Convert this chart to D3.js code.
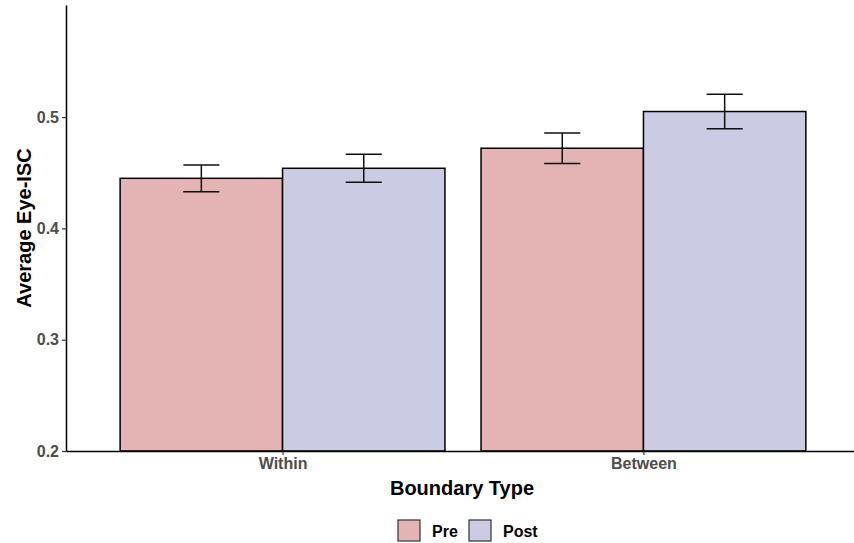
<!DOCTYPE html>
<html>
<head>
<meta charset="utf-8">
<script src="https://cdn.jsdelivr.net/npm/d3@7"></script>
<style>
  html, body { margin: 0; padding: 0; background: #fff; }
  svg { display: block; font-family: "Liberation Sans", Arial, sans-serif; }
</style>
</head>
<body>
<svg id="chart" width="854" height="543"></svg>
<script>
const categories = ["Within", "Between"];
const groups = ["Pre", "Post"];
const preMeans = [0.445, 0.472];
const postMeans = [0.454, 0.505];
const preErr = [0.012, 0.0137];
const postErr = [0.0125, 0.0155];
const yTicks = [0.2, 0.3, 0.4, 0.5];
const colors = ["#E4B3B3", "#CBCBE4"];

const data = [];
categories.forEach((c, i) => {
  data.push({cat: c, group: "Pre", mean: preMeans[i], err: preErr[i]});
  data.push({cat: c, group: "Post", mean: postMeans[i], err: postErr[i]});
});

const svg = d3.select("#chart");
const mLeft = 66, mRight = 860, mTop = 5, mBottom = 451;

const y = d3.scaleLinear().domain([0.2, 0.6007]).range([mBottom, mTop]);
const x = d3.scalePoint().domain(categories).range([mLeft, mRight]).padding(0.6);
const step = x.step();
const dodgeW = 0.9 * step;
const xg = d3.scaleBand().domain(groups).range([-dodgeW / 2, dodgeW / 2]).padding(0);
const color = d3.scaleOrdinal().domain(groups).range(colors);

const g = svg.append("g");

// bars
g.selectAll("rect.bar").data(data).enter().append("rect")
  .attr("class", "bar")
  .attr("x", d => x(d.cat) + xg(d.group))
  .attr("y", d => y(d.mean))
  .attr("width", xg.bandwidth())
  .attr("height", d => y(0.2) - y(d.mean))
  .attr("fill", d => color(d.group))
  .attr("stroke", "#000")
  .attr("stroke-width", 1.5);

// error bars
const capW = 0.1 * step;
const cx = d => x(d.cat) + xg(d.group) + xg.bandwidth() / 2;
const eb = g.selectAll("g.eb").data(data).enter().append("g").attr("class", "eb")
  .attr("stroke", "#111").attr("stroke-width", 1.5);
eb.append("line")
  .attr("x1", cx).attr("x2", cx)
  .attr("y1", d => y(d.mean + d.err))
  .attr("y2", d => y(d.mean - d.err));
eb.append("line")
  .attr("x1", d => cx(d) - capW / 2)
  .attr("x2", d => cx(d) + capW / 2)
  .attr("y1", d => y(d.mean + d.err))
  .attr("y2", d => y(d.mean + d.err));
eb.append("line")
  .attr("x1", d => cx(d) - capW / 2)
  .attr("x2", d => cx(d) + capW / 2)
  .attr("y1", d => y(d.mean - d.err))
  .attr("y2", d => y(d.mean - d.err));

// y axis
const yAxis = svg.append("g").attr("transform", `translate(${mLeft},0)`)
  .call(d3.axisLeft(y).tickValues(yTicks).tickFormat(d3.format(".1f")).tickSize(4).tickSizeOuter(0).tickPadding(3));
yAxis.select(".domain").attr("stroke", "#000").attr("stroke-width", 1.5);
yAxis.selectAll(".tick line").attr("stroke", "#333").attr("stroke-width", 1.2);
yAxis.selectAll(".tick text").attr("fill", "#4D4D4D").style("font-size", "16px").style("font-weight", "bold");

// x axis
const xAxis = svg.append("g").attr("transform", `translate(0,${mBottom})`)
  .call(d3.axisBottom(x).tickSize(4).tickSizeOuter(0).tickPadding(3));
xAxis.select(".domain").attr("stroke", "#000").attr("stroke-width", 1.5);
xAxis.selectAll(".tick line").attr("stroke", "#333").attr("stroke-width", 1.2);
xAxis.selectAll(".tick text").attr("fill", "#4D4D4D").style("font-size", "16px").style("font-weight", "bold");

// axis titles
svg.append("text")
  .attr("x", 462).attr("y", 495)
  .attr("text-anchor", "middle")
  .style("font-size", "20px").style("font-weight", "bold").attr("fill", "#000")
  .text("Boundary Type");
svg.append("text")
  .attr("transform", `translate(31,${(mTop + mBottom) / 2}) rotate(-90)`)
  .attr("text-anchor", "middle")
  .style("font-size", "20px").style("font-weight", "bold").attr("fill", "#000")
  .text("Average Eye-ISC");

// legend
const legendItems = [
  {label: groups[0], bx: 398, tx: 432},
  {label: groups[1], bx: 469, tx: 503}
];
const lg = svg.append("g");
legendItems.forEach(item => {
  lg.append("rect")
    .attr("x", item.bx).attr("y", 520).attr("width", 22).attr("height", 21)
    .attr("fill", color(item.label)).attr("stroke", "#333").attr("stroke-width", 1.2);
  lg.append("text")
    .attr("x", item.tx).attr("y", 536.5)
    .style("font-size", "16px").style("font-weight", "bold").attr("fill", "#000")
    .text(item.label);
});
</script>
</body>
</html>
